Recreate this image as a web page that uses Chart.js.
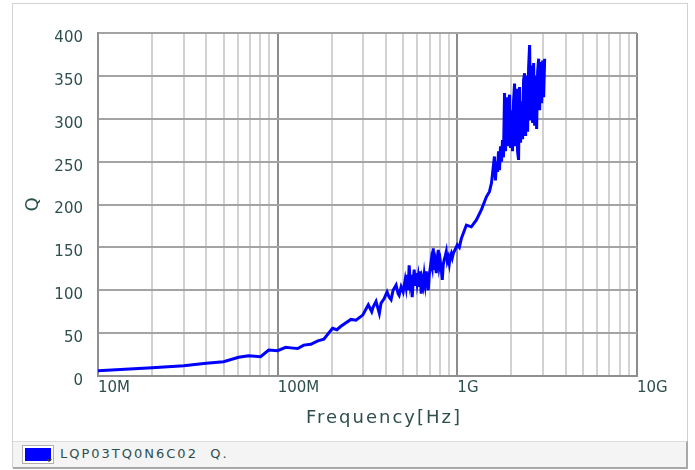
<!DOCTYPE html>
<html>
<head>
<meta charset="utf-8">
<script src="https://cdn.jsdelivr.net/npm/chart.js@4.4.1/dist/chart.umd.min.js"></script>
<style>
  body { margin: 0; background: #fff; }
  #wrap { position: relative; width: 695px; height: 470px; }
  #frame {
    position: absolute; left: 12px; top: 3px; width: 674px; height: 463px;
    border: 1px solid #cfd3d6;
  }
  #chart { position: absolute; left: 0; top: 0; }
  #xtitle {
    position: absolute; left: 234px; width: 300px; top: 406px; text-align: center;
    font: 18px "DejaVu Sans", sans-serif; letter-spacing: 2px; color: #2f4f4f;
  }
  #legend {
    position: absolute; left: 13px; top: 441px; width: 673px; height: 25px;
    background: #f4f4f4; border-top: 1px solid #dcdcdc;
    border-bottom: 2px solid #a8a8a8; border-right: 2px solid #a8a8a8;
  }
  #swatch {
    position: absolute; left: 9px; top: 3px; width: 30px; height: 17px;
    background: #fff; border: 1px solid #b0b0b0;
  }
  #swatch i {
    position: absolute; left: 2px; top: 2px; width: 26px; height: 13px; background: #0000ff;
  }
  #swatch b {
    position: absolute; right: 1px; bottom: 1px; width: 0; height: 0;
    border-left: 3px solid transparent; border-right: 3px solid transparent;
    border-top: 3px solid #333;
  }
  #legend span.txt {
    position: absolute; left: 47px; top: 4px; font: 13px "DejaVu Sans", sans-serif;
    letter-spacing: 2px; color: #2f4f4f; white-space: pre;
  }
</style>
</head>
<body>
<div id="wrap">
  <div id="frame"></div>
  <canvas id="chart" width="695" height="470"></canvas>
  <div id="xtitle">Frequency[Hz]</div>
  <div id="legend"><span id="swatch"><i></i><b></b></span><span class="txt">LQP03TQ0N6C02  Q.</span></div>
</div>
<script>
// frequency in MHz
const freqMHz = [
  10, 20, 30, 40, 50, 60.6, 68.9, 80.4, 89.1, 100,
  110.8, 122, 129.3, 139.7, 152.9, 167.3, 180.7, 202, 213.6, 224.9,
  255.7, 272.8, 297.4, 319.5, 333.8, 339.4, 352.8, 368.1, 376.2, 391,
  406.3, 417, 427.8, 439, 456.2, 468.1, 474.3, 486.7, 499.4, 512.3,
  518.9, 525.7, 532.5, 539.3, 546.4, 553.4, 560.6, 567.9, 575.3, 582.8,
  590.2, 597.9, 605.7, 613.5, 621.5, 629.5, 637.7, 646, 654.2, 662.7,
  671.3, 680, 688.9, 697.8, 706.9, 715.9, 725.2, 734.6, 744.1, 753.8,
  763.6, 773.6, 783.6, 793.6, 803.5, 814, 824.6, 835.3, 846.1, 857.1,
  868, 879.3, 890.6, 902.2, 913.9, 925.7, 937.7, 949.9, 974.5, 1000,
  1026, 1052, 1123, 1197, 1277, 1362, 1452, 1509, 1549,
  1609, 1630, 1652, 1673, 1695, 1717, 1739, 1762, 1784, 1807,
  1831, 1855, 1878, 1903, 1927, 1952, 1978, 2003, 2029, 2055,
  2082, 2109, 2136, 2164, 2192, 2220, 2249, 2278, 2308, 2337,
  2368, 2399, 2430, 2461, 2493, 2525, 2558, 2591, 2624, 2659,
  2693, 2728, 2763, 2799, 2835, 2872, 2909, 2947, 2985, 3023, 3062
];
const qValues = [
  6, 9.7, 12, 14.8, 16.7, 21.8, 23.7, 22.5, 30.3, 29.5,
  33.4, 32.5, 32, 36, 37, 41, 43, 55.6, 54, 58,
  66, 65, 71, 83, 75, 80, 87, 73, 85, 90,
  98, 92, 89, 100, 106, 96, 94, 104, 98, 112,
  104, 118, 100, 129, 110, 118, 92, 110, 124, 105,
  120, 108, 116, 104, 122, 96, 112, 106, 118, 108,
  122, 112, 100, 118, 126, 135, 128, 149, 124, 132,
  120, 138, 147, 128, 134, 124, 112, 130, 136, 140,
  145, 134, 138, 131, 140, 143, 138, 143, 148, 153,
  150, 160, 176, 174, 182, 194, 209, 215, 225,
  256, 228, 250, 238, 262, 240, 268, 250, 275, 255,
  330, 262, 325, 268, 318, 328, 266, 310, 262, 320,
  341, 268, 335, 262, 252, 337, 272, 320, 276, 345,
  353, 280, 350, 285, 360, 386, 298, 362, 295, 365,
  292, 350, 288, 355, 370, 310, 366, 318, 368, 325, 370
];
// gridlines at 1..9 x each decade, labels only on the decades
const decades = [1e7, 1e8, 1e9];
const decadeSteps = [1, 2, 3, 4, 5, 6, 7, 8, 9];
const xTickLabels = { 1e7: '10M', 1e8: '100M', 1e9: '1G', 1e10: '10G' };
const yTicks = [0, 50, 100, 150, 200, 250, 300, 350, 400];

const TEXT_COLOR = '#2f4f4f';

const points = freqMHz.map((f, i) => ({ x: f * 1e6, y: qValues[i] }));

let xTicks = [];
decades.forEach((d) => decadeSteps.forEach((s) => xTicks.push(s * d)));
xTicks.push(1e10);

new Chart(document.getElementById('chart'), {
  type: 'line',
  data: {
    datasets: [{
      label: 'LQP03TQ0N6C02 Q.',
      data: points,
      borderColor: '#0000ff',
      borderWidth: 3,
      pointRadius: 0,
      tension: 0,
      fill: false,
    }],
  },
  options: {
    responsive: false,
    animation: false,
    layout: { padding: { left: 20, top: 33, right: 58, bottom: 0 } },
    plugins: { legend: { display: false }, tooltip: { enabled: false } },
    scales: {
      x: {
        type: 'logarithmic',
        min: 1e7,
        max: 1e10,
        afterBuildTicks: (s) => { s.ticks = xTicks.map((v) => ({ value: v })); },
        afterFit: (s) => { s.height = 94; },
        border: { color: '#909090', width: 2 },
        grid: {
          drawTicks: false,
          lineWidth: 2,
          color: (c) => (xTickLabels[c.tick.value] ? '#8c8c8c' : '#d2d2d2'),
        },
        ticks: {
          autoSkip: false,
          maxRotation: 0,
          align: 'start',
          padding: 3,
          color: TEXT_COLOR,
          font: { family: 'DejaVu Sans', size: 15 },
          callback: (v) => xTickLabels[v] || '',
        },
      },
      y: {
        min: 0,
        max: 400,
        afterFit: (s) => { s.width = 78; },
        afterBuildTicks: (s) => { s.ticks = yTicks.map((v) => ({ value: v })); },
        border: { color: '#909090', width: 2 },
        grid: { drawTicks: false, lineWidth: 2, color: '#a4a4a4' },
        ticks: {
          padding: 15,
          labelOffset: 5,
          color: TEXT_COLOR,
          font: { family: 'DejaVu Sans', size: 15 },
        },
        title: {
          display: true,
          text: 'Q',
          color: TEXT_COLOR,
          font: { family: 'DejaVu Sans', size: 18 },
          padding: { top: 3, bottom: 0 },
        },
      },
    },
  },
});
</script>
</body>
</html>
